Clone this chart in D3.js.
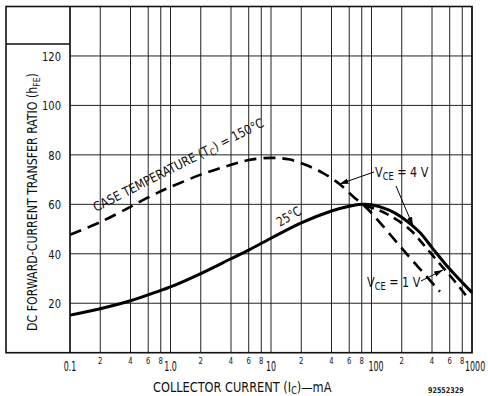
<!DOCTYPE html>
<html>
<head>
<meta charset="utf-8">
<script src="https://cdn.jsdelivr.net/npm/d3@7"></script>
<style>
  body { margin: 0; background: #fff; }
  svg { display: block; }
  .lbl { font-family: "Liberation Sans Narrow", "DejaVu Sans Condensed", "DejaVu Sans", sans-serif; font-stretch: condensed; fill: #111; }
</style>
</head>
<body>
<div id="chart"></div>
<script>
// collector current (mA) and hFE
const current25 = [0.1, 0.2, 0.4, 0.8, 1, 2, 4, 6, 10, 20, 40, 60, 80, 100, 150, 200, 300, 400, 600, 1000];
const hfe25 = [15.2, 17.8, 21.0, 25.2, 26.6, 32.0, 38.0, 41.5, 46.3, 52.5, 57.3, 59.2, 60.0, 59.8, 57.7, 54.8, 48.8, 42.5, 33.8, 24.3];

const current150 = [0.1, 0.2, 0.4, 0.6, 0.8, 1, 2, 4, 6, 10, 15, 22, 33, 48, 66, 90, 215, 480];
const hfe150 = [47.7, 52.8, 59.0, 62.8, 65.3, 67.0, 72.0, 76.0, 77.9, 78.8, 78.2, 76.0, 72.6, 68.2, 63.1, 58.4, 40.8, 24.7];

const currentLow = [85, 120, 170, 250, 350, 500, 630, 885];
const hfeLow = [59.5, 57.5, 54.3, 49.2, 42.4, 35.0, 30.3, 22.8];

const yTicks = [20, 40, 60, 80, 100, 120];
const xMajor = [0.1, 1, 10, 100, 1000];
const xMajorLabels = ["0.1", "1.0", "10", "100", "1000"];
const xMinor = [2, 4, 6, 8];
const xMinorLabels = ["2", "4", "6", "8"];

const width = 488;
const height = 396;

const svg = d3.select('#chart')
  .append('svg')
  .attr('width', width)
  .attr('height', height);

const x = d3.scaleLog().domain([0.1, 1000]).range([70, 472]);
const y = d3.scaleLinear().domain([0, 140]).range([352.7, 6.5]);

// squeeze a text horizontally so it is w pixels wide (the scan uses a narrow face)
function place(sel, px, py, rot, w) {
  const bw = sel.node().getBBox().width;
  const s = w ? w / bw : 0.85;
  sel.attr('transform', `translate(${px},${py}) rotate(${rot}) scale(${s},1)`);
}

// grid positions: 1,2,4,6,8 in every decade
const decades = xMajor.slice(0, -1);
const gridX = decades.flatMap(d => [1].concat(xMinor).map(m => d * m)).concat([1000]);

svg.append('g')
  .selectAll('line')
  .data(gridX)
  .enter()
  .append('line')
  .attr('x1', d => x(d)).attr('x2', d => x(d))
  .attr('y1', y(140)).attr('y2', y(0))
  .attr('stroke', '#222')
  .attr('stroke-width', 1);

svg.append('g')
  .selectAll('line')
  .data(yTicks)
  .enter()
  .append('line')
  .attr('x1', x(0.1)).attr('x2', x(1000))
  .attr('y1', d => y(d)).attr('y2', d => y(d))
  .attr('stroke', '#222')
  .attr('stroke-width', 1);

// outer frame with the boxed-in title strip on the left
svg.append('rect')
  .attr('x', 6).attr('y', y(140))
  .attr('width', x(1000) - 6).attr('height', y(0) - y(140))
  .attr('fill', 'none')
  .attr('stroke', '#111')
  .attr('stroke-width', 1.6);

svg.append('line')
  .attr('x1', 6).attr('x2', x(0.1))
  .attr('y1', 44).attr('y2', 44)
  .attr('stroke', '#111')
  .attr('stroke-width', 1.4);

svg.append('line')
  .attr('x1', x(0.1)).attr('x2', x(0.1))
  .attr('y1', y(140)).attr('y2', y(0))
  .attr('stroke', '#111')
  .attr('stroke-width', 1.4);

// y tick labels
svg.append('g')
  .selectAll('text')
  .data(yTicks)
  .enter()
  .append('text')
  .attr('class', 'lbl')
  .attr('text-anchor', 'end')
  .attr('font-size', 13)
  .text(d => d)
  .attr('transform', d => `translate(61,${y(d) + 5}) scale(0.85,1)`);

// x tick labels, big ones on the decades
svg.append('g')
  .selectAll('text')
  .data(xMajor)
  .enter()
  .append('text')
  .attr('class', 'lbl')
  .attr('text-anchor', d => d >= 100 ? 'start' : 'middle')
  .attr('font-size', 14)
  .text((d, i) => xMajorLabels[i])
  .attr('transform', d => {
    const px = d >= 100 ? x(d) - (d >= 1000 ? 7 : 3) : x(d);
    return `translate(${px},370.5) scale(0.63,1)`;
  });

const minorPos = decades.flatMap(d => xMinor.map((m, i) => ({ v: d * m, t: xMinorLabels[i] })));
svg.append('g')
  .selectAll('text')
  .data(minorPos)
  .enter()
  .append('text')
  .attr('class', 'lbl')
  .attr('text-anchor', 'middle')
  .attr('font-size', 9.5)
  .text(d => d.t)
  .attr('transform', d => `translate(${x(d.v)},363.5) scale(0.8,1)`);

// axis titles
const yTitle = svg.append('text')
  .attr('class', 'lbl')
  .attr('text-anchor', 'middle')
  .attr('font-size', 13.5);
yTitle.append('tspan').text('DC FORWARD-CURRENT TRANSFER RATIO (h');
yTitle.append('tspan').attr('font-size', 9.5).attr('dy', 3).text('FE');
yTitle.append('tspan').attr('dy', -3).text(')');
place(yTitle, 37, 202, -90, 258);

const xTitle = svg.append('text')
  .attr('class', 'lbl')
  .attr('font-size', 14);
xTitle.append('tspan').text('COLLECTOR CURRENT (I');
xTitle.append('tspan').attr('font-size', 10).attr('dy', 2.5).text('C');
xTitle.append('tspan').attr('dy', -2.5).text(')\u2014mA');
place(xTitle, 153, 391.5, 0, 179);

const code = svg.append('text')
  .attr('font-family', 'DejaVu Sans, sans-serif')
  .attr('font-weight', 'bold')
  .attr('font-size', 8)
  .attr('fill', '#222')
  .text('92552329');
place(code, 428, 392.5, 0, 36);

// curves
const line = d3.line()
  .x(d => x(d[0]))
  .y(d => y(d[1]))
  .curve(d3.curveCatmullRom.alpha(0.5));

svg.append('path')
  .datum(d3.zip(current25, hfe25))
  .attr('d', line)
  .attr('fill', 'none')
  .attr('stroke', '#000')
  .attr('stroke-width', 3);

svg.append('path')
  .datum(d3.zip(current150, hfe150))
  .attr('d', line)
  .attr('fill', 'none')
  .attr('stroke', '#000')
  .attr('stroke-width', 2.6)
  .attr('stroke-dasharray', '12,7');

svg.append('path')
  .datum(d3.zip(currentLow, hfeLow))
  .attr('d', line)
  .attr('fill', 'none')
  .attr('stroke', '#000')
  .attr('stroke-width', 2.6)
  .attr('stroke-dasharray', '10,6');

// annotations
const caseLbl = svg.append('text')
  .attr('class', 'lbl')
  .attr('font-size', 13);
caseLbl.append('tspan').text('CASE TEMPERATURE (T');
caseLbl.append('tspan').attr('font-size', 9.5).attr('dy', 3).text('C');
caseLbl.append('tspan').attr('dy', -3).text(') = 150°C');
place(caseLbl, 96, 212, -27, 190);

const lbl25 = svg.append('text')
  .attr('class', 'lbl')
  .attr('font-size', 13)
  .text('25°C');
place(lbl25, 280, 227, -31, 26);

function vceLabel(px, py, val) {
  const t = svg.append('text')
    .attr('class', 'lbl')
    .attr('font-size', 13.5);
  t.append('tspan').text('V');
  t.append('tspan').attr('font-size', 10).attr('dy', 3).text('CE');
  t.append('tspan').attr('dy', -3).text(' = ' + val + ' V');
  place(t, px, py, 0, 54);
}
vceLabel(375, 177, 4);
vceLabel(367, 287, 1);

svg.append('defs').append('marker')
  .attr('id', 'head')
  .attr('viewBox', '0 0 10 6')
  .attr('refX', 10).attr('refY', 3)
  .attr('markerWidth', 9).attr('markerHeight', 6)
  .attr('markerUnits', 'userSpaceOnUse')
  .attr('orient', 'auto')
  .append('path')
  .attr('d', 'M0,0 L10,3 L0,6 Z')
  .attr('fill', '#000');

function arrow(x1, y1, x2, y2) {
  svg.append('line')
    .attr('x1', x1).attr('y1', y1)
    .attr('x2', x2).attr('y2', y2)
    .attr('stroke', '#000')
    .attr('stroke-width', 1)
    .attr('marker-end', 'url(#head)');
}
arrow(374, 172, x(48), y(68.2));
arrow(396, 186, 413, 226);
arrow(421, 281, 443, 270);
</script>
</body>
</html>
